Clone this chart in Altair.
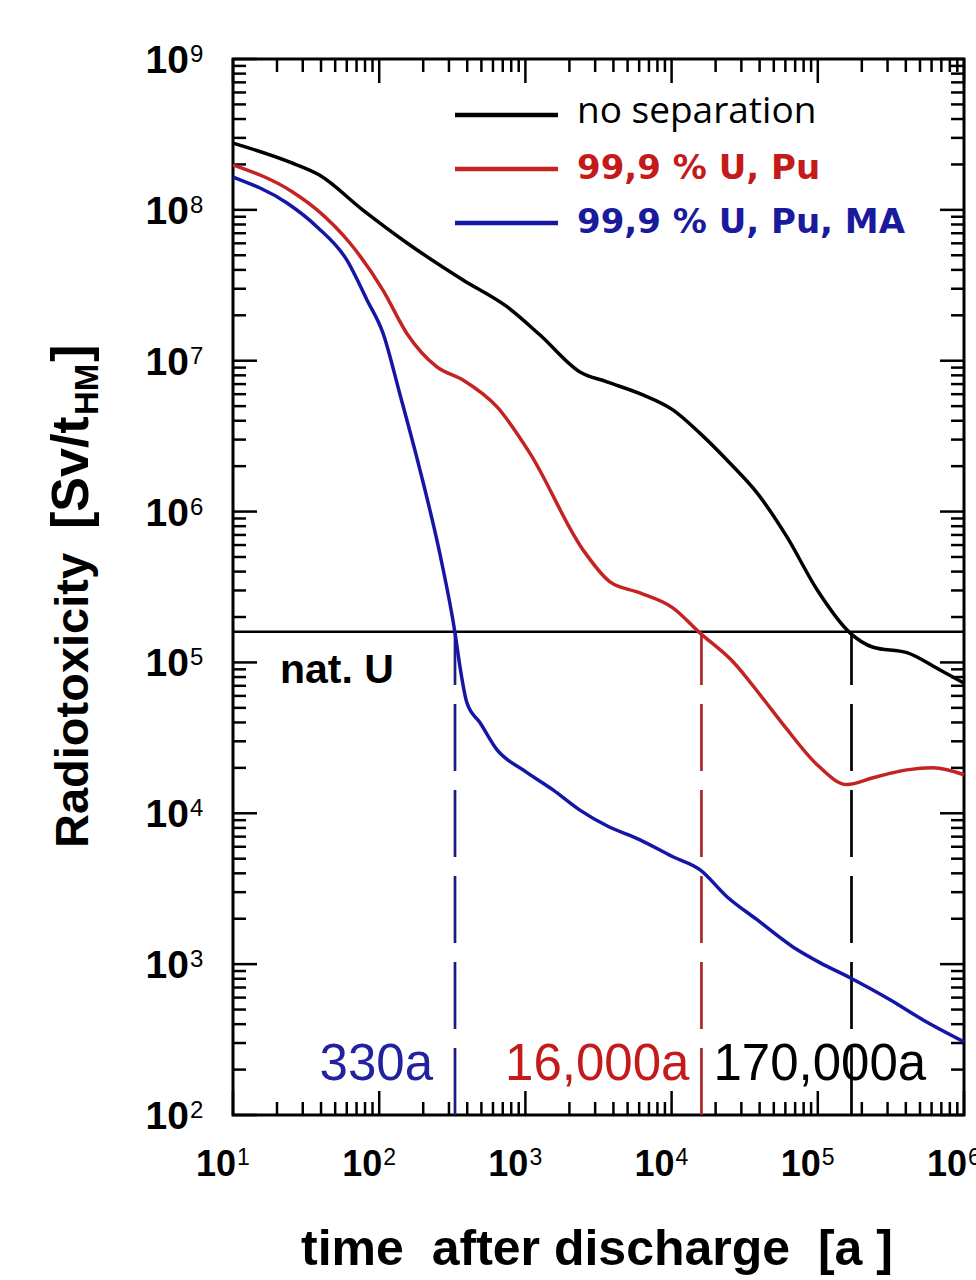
import altair as alt
import pandas as pd

# ---------------- data ----------------
SERIES = ["no separation", "99,9 % U, Pu", "99,9 % U, Pu, MA"]
LINE_COLORS = ["#000000", "#c42323", "#1616a6"]

t_black = [10, 24.5, 39, 77, 155, 374, 748, 1260, 2360, 3610, 6370, 10200, 15600,
           25100, 38400, 61500, 98900, 166000, 239000, 407000, 686000, 1000000]
v_black = [2.77e8, 2.07e8, 1.70e8, 1.0e8, 6.03e7, 3.43e7, 2.28e7, 1.48e7, 8.43e6,
           7.24e6, 5.93e6, 4.72e6, 3.31e6, 2.09e6, 1.33e6, 6.79e5, 3.03e5, 1.57e5,
           1.26e5, 1.16e5, 8.9e4, 7.3e4]

t_red = [10, 25.7, 37.6, 63, 106, 155, 248, 374, 640, 1070, 2480, 3790, 6080,
         10200, 15600, 26300, 40300, 59700, 98900, 158000, 239000, 407000, 614000, 1000000]
v_red = [1.99e8, 1.31e8, 1.0e8, 6.03e7, 2.94e7, 1.51e7, 9.1e6, 7.46e6, 4.94e6, 2.45e6,
         5.57e5, 3.42e5, 2.89e5, 2.30e5, 1.57e5, 1.01e5, 6.1e4, 3.74e4, 2.1e4,
         1.55e4, 1.72e4, 1.94e4, 2.0e4, 1.8e4]

t_blue = [10, 23.4, 37.6, 60, 82.5, 106, 139, 190, 261, 330, 357, 398, 490, 640,
          964, 1545, 2360, 3610, 6080, 10200, 15600, 23900, 38400, 67600, 104000, 166000,
          312000, 525000, 1000000]
v_blue = [1.65e8, 1.11e8, 7.71e7, 4.66e7, 2.53e7, 1.53e7, 5.93e6, 1.89e6, 5.16e5, 1.57e5,
          9.33e4, 5.4e4, 3.98e4, 2.63e4, 1.94e4, 1.43e4, 1.05e4, 8.26e3, 6.67e3, 5.15e3,
          4.23e3, 2.8e3, 1.97e3, 1.30e3, 1.02e3, 8.13e2, 5.81e2, 4.27e2, 3.06e2]

NAT_U = 1.6e5
CROSS_T = [330, 16000, 170000]
CROSS_COLORS = ["#1c1c80", "#a82828", "#000000"]
CROSS_LABELS = ["330a", "16,000a", "170,000a"]
CROSS_TEXT_COLORS = ["#2222a0", "#c41a1a", "#000000"]

X_EXP = [1, 2, 3, 4, 5, 6]
Y_EXP = [2, 3, 4, 5, 6, 7, 8, 9]

# ---------------- layout ----------------
W, H = 731, 1056
PAD = {"left": 233, "top": 59, "right": 12, "bottom": 165}

xs = alt.Scale(type="log", domain=[10, 1e6], nice=False)
ys = alt.Scale(type="log", domain=[100, 1e9], nice=False)

X_MAJOR = [10.0 ** e for e in X_EXP]
Y_MAJOR = [10.0 ** e for e in Y_EXP]
X_MINOR = [m * 10.0 ** e for e in X_EXP[:-1] for m in range(2, 10)]
Y_MINOR = [m * 10.0 ** e for e in Y_EXP[:-1] for m in range(2, 10)]

rows = []
for name, ts, vs in zip(SERIES, [t_black, t_red, t_blue], [v_black, v_red, v_blue]):
    rows += [{"t": t, "v": v, "series": name} for t, v in zip(ts, vs)]
df = pd.DataFrame(rows)

X = lambda f: alt.X(f, type="quantitative", scale=xs, axis=None)
Y = lambda f: alt.Y(f, type="quantitative", scale=ys, axis=None)

layers = []

# tick marks (inside, on all four sides)
def tick_layer(vals, side, length):
    d = pd.DataFrame({"p": vals})
    base = alt.Chart(d).mark_rule(color="black", strokeWidth=2.5)
    if side == "left":
        return base.encode(y=Y("p"), x=alt.value(0), x2=alt.value(length))
    if side == "right":
        return base.encode(y=Y("p"), x=alt.value(W), x2=alt.value(W - length))
    if side == "top":
        return base.encode(x=X("p"), y=alt.value(0), y2=alt.value(length))
    return base.encode(x=X("p"), y=alt.value(H), y2=alt.value(H - length))

for side in ["left", "right"]:
    layers.append(tick_layer(Y_MAJOR, side, 24))
    layers.append(tick_layer(Y_MINOR, side, 13))
for side in ["top", "bottom"]:
    layers.append(tick_layer(X_MAJOR, side, 24))
    layers.append(tick_layer(X_MINOR, side, 13))

# natural uranium reference line
layers.append(
    alt.Chart(pd.DataFrame({"v": [NAT_U]}))
    .mark_rule(color="black", strokeWidth=2.5)
    .encode(y=Y("v"), x=alt.value(0), x2=alt.value(W))
)

# dashed crossing lines
cross_df = pd.DataFrame({"t": CROSS_T, "c": CROSS_COLORS, "lo": 100.0, "hi": NAT_U})
layers.append(
    alt.Chart(cross_df)
    .mark_rule(strokeWidth=2.7, strokeDash=[67, 19])
    .encode(x=X("t"), y=Y("lo"), y2="hi:Q", color=alt.Color("c:N", scale=None))
)

# curves
layers.append(
    alt.Chart(df)
    .mark_line(strokeWidth=3.5, interpolate="monotone")
    .encode(
        x=X("t"),
        y=Y("v"),
        color=alt.Color("series:N", scale=alt.Scale(domain=SERIES, range=LINE_COLORS), legend=None),
        order=alt.Order("t:Q"),
    )
)

# tick labels: "10" + superscript exponent
ylab = pd.DataFrame({"p": Y_MAJOR, "e": [str(e) for e in Y_EXP]})
layers.append(
    alt.Chart(ylab).mark_text(text="10", align="right", baseline="alphabetic", font="Liberation Sans",
                              fontWeight="bold", fontSize=39, dy=14)
    .encode(y=Y("p"), x=alt.value(-44))
)
layers.append(
    alt.Chart(ylab).mark_text(align="left", baseline="alphabetic", font="Liberation Sans",
                              fontSize=24, dy=3)
    .encode(y=Y("p"), x=alt.value(-43), text="e:N")
)
xlab = pd.DataFrame({"p": X_MAJOR, "e": [str(e) for e in X_EXP]})
layers.append(
    alt.Chart(xlab).mark_text(text="10", align="right", baseline="alphabetic", font="Liberation Sans",
                              fontWeight="bold", fontSize=36, dx=3)
    .encode(x=X("p"), y=alt.value(H + 61))
)
layers.append(
    alt.Chart(xlab).mark_text(align="left", baseline="alphabetic", font="Liberation Sans",
                              fontSize=23, dx=4)
    .encode(x=X("p"), y=alt.value(H + 50), text="e:N")
)

# crossing-time annotations
ann = pd.DataFrame({"t": CROSS_T, "label": CROSS_LABELS, "c": CROSS_TEXT_COLORS})
ann_dx = [-22, -12, -138]
ann_align = ["right", "right", "left"]
for i in range(3):
    layers.append(
        alt.Chart(ann.iloc[[i]]).mark_text(align=ann_align[i], baseline="alphabetic",
                                           font="Liberation Sans", fontSize=51, dx=ann_dx[i])
        .encode(x=X("t"), y=alt.value(1021), text="label:N", color=alt.Color("c:N", scale=None))
    )

# nat. U label
layers.append(
    alt.Chart(pd.DataFrame({"s": ["nat. U"]})).mark_text(align="left", baseline="alphabetic",
        font="Liberation Sans", fontWeight="bold", fontSize=41)
    .encode(x=alt.value(47), y=alt.value(624), text="s:N")
)

# legend
LEG_Y = [56, 110, 164]
LEG_FONT = [("Open Sans", "normal", 37, 8), ("DejaVu Sans", "bold", 34, 10), ("DejaVu Sans", "bold", 34, 10)]
LEG_TEXT_COLORS = ["#000000", "#c41a1a", "#1a1a9c"]
for i, name in enumerate(SERIES):
    layers.append(
        alt.Chart(pd.DataFrame({"s": [name]})).mark_rule(color=LINE_COLORS[i], strokeWidth=4.5)
        .encode(x=alt.value(222), x2=alt.value(325), y=alt.value(LEG_Y[i]))
    )
    f, wgt, size, off = LEG_FONT[i]
    layers.append(
        alt.Chart(pd.DataFrame({"s": [name]})).mark_text(align="left", baseline="alphabetic",
            font=f, fontWeight=wgt, fontSize=size, color=LEG_TEXT_COLORS[i])
        .encode(x=alt.value(344), y=alt.value(LEG_Y[i] + off), text="s:N")
    )

# axis titles
layers.append(
    alt.Chart(pd.DataFrame({"s": ["time\u00a0\u00a0after discharge\u00a0\u00a0[a\u00a0]"]}))
    .mark_text(align="center", baseline="alphabetic", font="Liberation Sans", fontWeight="bold", fontSize=50)
    .encode(x=alt.value(364), y=alt.value(1206), text="s:N")
)
YT_X = -145
layers.append(
    alt.Chart(pd.DataFrame({"s": ["Radiotoxicity"]}))
    .mark_text(align="left", baseline="alphabetic", angle=270, font="Liberation Sans",
               fontWeight="bold", fontSize=47)
    .encode(x=alt.value(YT_X), y=alt.value(789), text="s:N")
)
layers.append(
    alt.Chart(pd.DataFrame({"s": ["[Sv/t"]}))
    .mark_text(align="left", baseline="alphabetic", angle=270, font="Liberation Sans",
               fontWeight="bold", fontSize=52)
    .encode(x=alt.value(YT_X), y=alt.value(470), text="s:N")
)
layers.append(
    alt.Chart(pd.DataFrame({"s": ["HM"]}))
    .mark_text(align="left", baseline="alphabetic", angle=270, font="Liberation Sans",
               fontWeight="bold", fontSize=33)
    .encode(x=alt.value(YT_X + 10), y=alt.value(356), text="s:N")
)
layers.append(
    alt.Chart(pd.DataFrame({"s": ["]"]}))
    .mark_text(align="left", baseline="alphabetic", angle=270, font="Liberation Sans",
               fontWeight="bold", fontSize=52)
    .encode(x=alt.value(YT_X), y=alt.value(303), text="s:N")
)

chart = (
    alt.layer(*layers)
    .properties(width=W, height=H, autosize=alt.AutoSizeParams(type="none"), padding=PAD,
                background="white")
    .configure_view(stroke="black", strokeWidth=3)
)

chart.save("out.html", embed_options={"renderer": "svg", "actions": False})
